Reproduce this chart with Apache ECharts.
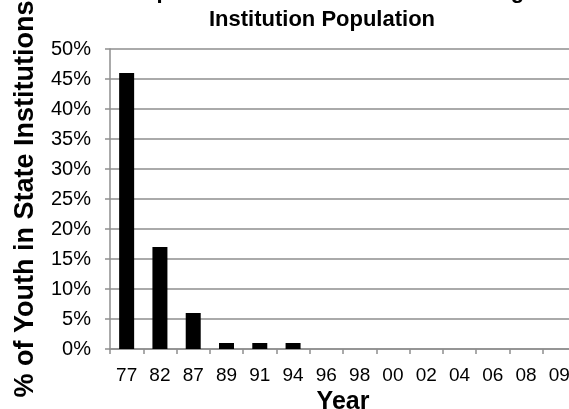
<!DOCTYPE html>
<html>
<head>
<meta charset="utf-8">
<script src="https://cdn.jsdelivr.net/npm/echarts@6/dist/echarts.min.js"></script>
<style>
html,body{margin:0;padding:0;background:#fff;}
#chart{width:569px;height:409px;}
</style>
</head>
<body>
<div id="chart"></div>
<script>
const titleLine1 = 'Proportion of Status Offenders Among';
const titleLine2 = 'Institution Population';
const yAxisTitle = '% of Youth in State Institutions';
const xAxisTitle = 'Year';
const years = ['77','82','87','89','91','94','96','98','00','02','04','06','08','09'];
const percentValues = [46,17,6,1,1,1,0,0,0,0,0,0,0,0];

const FONT = '"Liberation Sans", Arial, sans-serif';
const chart = echarts.init(document.getElementById('chart'));
chart.setOption({
  backgroundColor: '#ffffff',
  animation: false,
  title: [
    {
      text: titleLine1, left: 322, top: -19, padding: 0,
      textAlign: 'center', textVerticalAlign: 'top',
      textStyle: { fontFamily: FONT, fontSize: 22, fontWeight: 'bold', color: '#000', lineHeight: 22 }
    },
    {
      text: titleLine2, left: 322, top: 9, padding: 0,
      textAlign: 'center', textVerticalAlign: 'top',
      textStyle: { fontFamily: FONT, fontSize: 22, fontWeight: 'bold', color: '#000', lineHeight: 22 }
    }
  ],
  grid: { left: 110, top: 49, width: 466, bottom: 60, containLabel: false, outerBoundsMode: 'none' },
  xAxis: {
    type: 'category',
    data: years,
    name: xAxisTitle,
    nameLocation: 'middle',
    nameGap: 34,
    nameTextStyle: { fontFamily: FONT, fontSize: 25, fontWeight: 'bold', color: '#000', lineHeight: 25 },
    axisLine: { show: true, lineStyle: { color: '#8e8e8e', width: 1.5 } },
    axisTick: { show: true, alignWithLabel: false, length: 5, lineStyle: { color: '#8e8e8e', width: 1.5 } },
    axisLabel: { fontFamily: FONT, fontSize: 19, color: '#000', margin: 17, interval: 0 },
    splitLine: { show: false }
  },
  yAxis: {
    type: 'value',
    min: 0, max: 50, interval: 5,
    name: yAxisTitle,
    nameLocation: 'middle',
    nameRotate: 90,
    nameGap: 71,
    nameTextStyle: { fontFamily: FONT, fontSize: 27, fontWeight: 'bold', color: '#000' },
    axisLine: { show: true, lineStyle: { color: '#8e8e8e', width: 1.5 } },
    axisTick: { show: true, length: 5, lineStyle: { color: '#8e8e8e', width: 1.5 } },
    axisLabel: { fontFamily: FONT, fontSize: 20, color: '#000', margin: 19, formatter: '{value}%' },
    splitLine: { show: true, lineStyle: { color: '#8e8e8e', width: 1.5 } }
  },
  series: [{
    type: 'bar',
    data: percentValues,
    barWidth: 15,
    itemStyle: { color: '#000' }
  }]
});
</script>
</body>
</html>
